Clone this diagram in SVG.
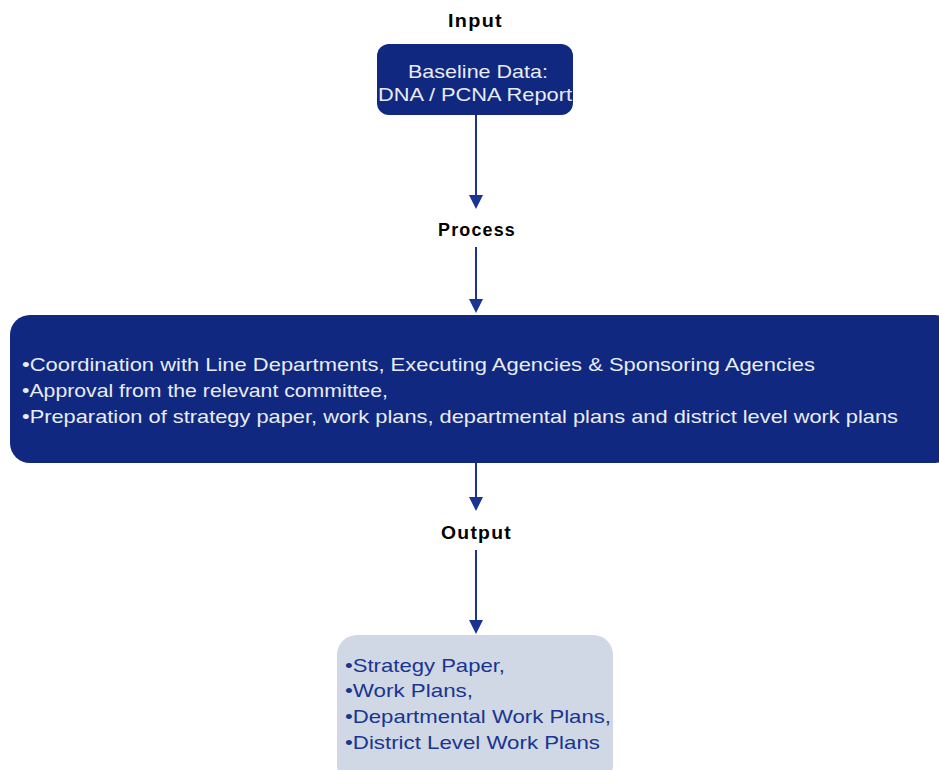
<svg xmlns="http://www.w3.org/2000/svg" width="939" height="770" viewBox="0 0 939 770">
<defs>
<marker id="ah" markerWidth="14" markerHeight="14" refX="9" refY="7" orient="auto" markerUnits="userSpaceOnUse" viewBox="0 0 14 14">
<path d="M0,0 L14,7 L0,14 z" fill="#1a3590"/>
</marker>
<style>
.lbl{font-family:"Liberation Sans",Arial,sans-serif;font-weight:bold;font-size:18px;fill:#000;letter-spacing:1.2px}
.dark{fill:#10287f}
.light{fill:#cfd8e4}
.wt{font-family:"Liberation Sans",Arial,sans-serif;font-size:19px;fill:#e8ecf6}
.bt{font-family:"Liberation Sans",Arial,sans-serif;font-size:19px;fill:#1a3590}
.conn{stroke:#1a3590;stroke-width:2;fill:none}
</style>
</defs>
<rect width="939" height="770" fill="#ffffff"/>
<g id="labels">
<text class="lbl" x="448" y="27" textLength="55" lengthAdjust="spacingAndGlyphs">Input</text>
<text class="lbl" x="438" y="236" textLength="78" lengthAdjust="spacingAndGlyphs">Process</text>
<text class="lbl" x="441" y="539" textLength="71" lengthAdjust="spacingAndGlyphs">Output</text>
</g>
<g id="input">
<rect class="dark" x="377" y="44" width="196" height="71" rx="12"/>
<text class="wt" x="408" y="78" font-size="20" textLength="140" lengthAdjust="spacingAndGlyphs">Baseline Data:</text>
<text class="wt" x="378" y="101" font-size="20" textLength="194" lengthAdjust="spacingAndGlyphs">DNA / PCNA Report</text>
</g>
<g id="process">
<rect class="dark" x="10" y="315" width="945" height="148" rx="20"/>
<text class="wt" x="22" y="371" textLength="793" lengthAdjust="spacingAndGlyphs">•Coordination with Line Departments, Executing Agencies &amp; Sponsoring Agencies</text>
<text class="wt" x="22" y="397" textLength="366" lengthAdjust="spacingAndGlyphs">•Approval from the relevant committee,</text>
<text class="wt" x="22" y="423" textLength="876" lengthAdjust="spacingAndGlyphs">•Preparation of strategy paper, work plans, departmental plans and district level work plans</text>
</g>
<g id="output">
<rect class="light" x="337" y="635" width="276" height="150" rx="20"/>
<text class="bt" x="345" y="672" textLength="160" lengthAdjust="spacingAndGlyphs">•Strategy Paper,</text>
<text class="bt" x="345" y="697" textLength="128" lengthAdjust="spacingAndGlyphs">•Work Plans,</text>
<text class="bt" x="345" y="723" textLength="266" lengthAdjust="spacingAndGlyphs">•Departmental Work Plans,</text>
<text class="bt" x="345" y="749" textLength="255" lengthAdjust="spacingAndGlyphs">•District Level Work Plans</text>
</g>
<g id="connectors">
<line class="conn" x1="476" y1="115" x2="476" y2="204" marker-end="url(#ah)"/>
<line class="conn" x1="476" y1="247" x2="476" y2="308" marker-end="url(#ah)"/>
<line class="conn" x1="476" y1="463" x2="476" y2="506" marker-end="url(#ah)"/>
<line class="conn" x1="476" y1="550" x2="476" y2="629" marker-end="url(#ah)"/>
</g>
</svg>
